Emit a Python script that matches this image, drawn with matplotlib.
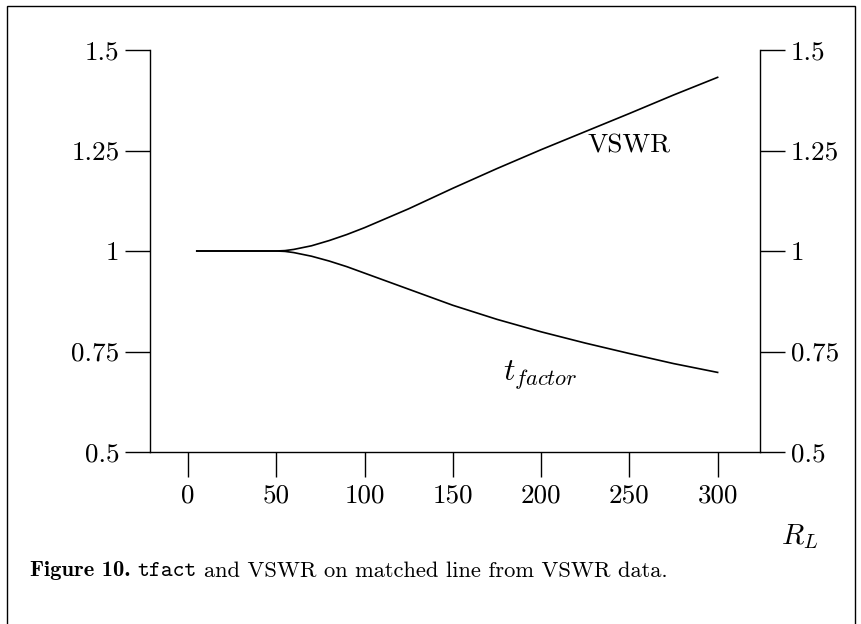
import matplotlib
matplotlib.use('Agg')
import matplotlib.pyplot as plt
from matplotlib.patches import Rectangle

plt.rcParams['font.family'] = 'cmr10'
plt.rcParams['mathtext.fontset'] = 'cm'
plt.rcParams['axes.formatter.use_mathtext'] = True

# values
r_load = [5, 50, 55, 60, 70, 80, 90, 100, 125, 150, 175, 200, 225, 250, 275, 300]
vswr = [1.0, 1.0, 1.001, 1.004, 1.013, 1.026, 1.041, 1.058, 1.105, 1.156,
        1.205, 1.252, 1.297, 1.342, 1.388, 1.432]
tfact = [1.0, 1.0, 0.999, 0.996, 0.987, 0.975, 0.961, 0.945, 0.905, 0.865,
         0.830, 0.799, 0.771, 0.745, 0.720, 0.698]

x_ticks = [0, 50, 100, 150, 200, 250, 300]
y_ticks = [0.5, 0.75, 1.0, 1.25, 1.5]
y_labels = ['0.5', '0.75', '1', '1.25', '1.5']

caption = [('Figure 10.', 'cmb10'), ('tfact', 'cmtt10'),
           ('and VSWR on matched line from VSWR data.', 'cmr10')]

FS = 19.5

fig = plt.figure(figsize=(8.62, 6.24), dpi=100)
ax = fig.add_axes([150/862, 1 - 452/624, 610/862, 402/624])

ax.plot(r_load, vswr, color='black', lw=1.2)
ax.plot(r_load, tfact, color='black', lw=1.2)

ax.set_xlim(-21.5, 324)
ax.set_ylim(0.5, 1.5)
ax.set_xticks(x_ticks)
ax.set_xticklabels([str(v) for v in x_ticks])
ax.set_yticks(y_ticks)
ax.set_yticklabels(y_labels)

ax.spines['top'].set_visible(False)
for s in ['left', 'right', 'bottom']:
    ax.spines[s].set_linewidth(1.0)
ax.yaxis.set_ticks_position('both')
ax.tick_params(axis='y', direction='out', length=18, width=1.0, pad=4,
               labelsize=FS, labelright=True)
ax.tick_params(axis='x', direction='out', length=18, width=1.0, pad=5,
               labelsize=FS)

ax.text(250, 1.261, 'VSWR', fontsize=FS, ha='center', va='center')
ax.text(199.5, 0.69, r'$t_{factor}$', fontsize=23, ha='center', va='center')

fig.text(800/862, 1 - 537/624, r'$R_L$', fontsize=21, ha='center', va='center')

# caption built from pieces in different fonts
renderer = fig.canvas.get_renderer()
x_px = 30
for txt, fam in caption:
    t = fig.text(x_px/862, 1 - 571/624, txt, fontsize=16.2, family=fam,
                 ha='left', va='center')
    x_px += t.get_window_extent(renderer).width + 7

fig.patches.append(Rectangle((7/862, -0.02), 848/862, 1.02 - 6/624,
                             transform=fig.transFigure, fill=False,
                             edgecolor='black', lw=1.0))

fig.savefig('out.png', dpi=100)
